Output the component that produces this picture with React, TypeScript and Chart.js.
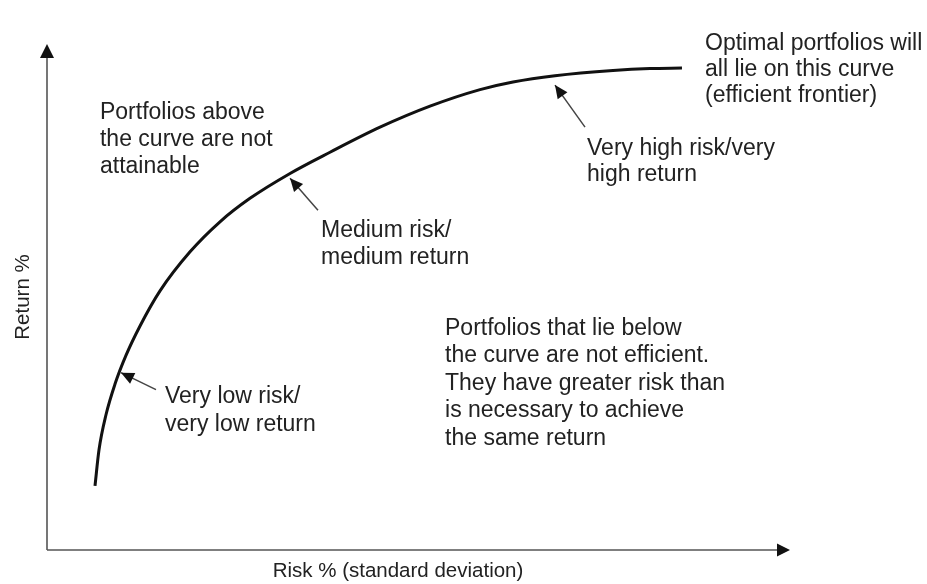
import React, { useEffect, useRef } from "react";
import { Chart, registerables } from "chart.js";

Chart.register(...registerables);

// Efficient frontier (axes 0..100, no ticks shown)
const riskValues = [6.46, 7.0, 7.94, 9.15, 10.63, 12.52, 15.21, 19.25, 23.28, 27.32, 32.71, 38.09, 44.82, 51.55, 58.28, 62.72, 68.37, 76.18, 81.16, 85.46];
const returnValues = [12.67, 19.8, 26.73, 32.79, 38.46, 44.28, 51.21, 58.93, 64.87, 69.5, 74.42, 78.61, 83.56, 87.72, 90.99, 92.5, 93.74, 94.77, 95.15, 95.25];

const xAxisTitle = "Risk % (standard deviation)";
const yAxisTitle = "Return %";

// annotation texts: anchor in data units (left, first baseline)
const noteLines = [
  ["Portfolios above", "the curve are not", "attainable"],
  ["Optimal portfolios will", "all lie on this curve", "(efficient frontier)"],
  ["Very high risk/very", "high return"],
  ["Medium risk/", "medium return"],
  ["Portfolios that lie below", "the curve are not efficient.", "They have greater risk than", "is necessary to achieve", "the same return"],
  ["Very low risk/", "very low return"],
];
const noteX = [7.13, 88.56, 72.68, 36.88, 53.57, 15.88];
const noteY = [85.15, 98.81, 78.02, 61.78, 42.57, 29.11];
const noteLineGap = [27, 26, 26, 27, 27.5, 28];

// pointer arrows: tail -> tip, in data units
const pointerTailX = [14.67, 36.47, 72.41];
const pointerTailY = [31.68, 67.13, 83.56];
const pointerTipX = [9.96, 32.71, 68.37];
const pointerTipY = [35.05, 73.47, 91.88];

function arrowHead(ctx: CanvasRenderingContext2D, fx: number, fy: number, tx: number, ty: number, len: number, half: number) {
  const a = Math.atan2(ty - fy, tx - fx);
  ctx.beginPath();
  ctx.moveTo(tx, ty);
  ctx.lineTo(tx - len * Math.cos(a) + half * Math.sin(a), ty - len * Math.sin(a) - half * Math.cos(a));
  ctx.lineTo(tx - len * Math.cos(a) - half * Math.sin(a), ty - len * Math.sin(a) + half * Math.cos(a));
  ctx.closePath();
  ctx.fill();
}

const decorPlugin = {
  id: "decor",
  afterDraw(chart: any) {
    const ctx: CanvasRenderingContext2D = chart.ctx;
    const xs = chart.scales.x;
    const ys = chart.scales.y;
    const x0 = xs.getPixelForValue(0);
    const x1 = xs.getPixelForValue(100);
    const y0 = ys.getPixelForValue(0);
    const y1 = ys.getPixelForValue(100);
    ctx.save();
    // axes
    ctx.strokeStyle = "#555";
    ctx.fillStyle = "#111";
    ctx.lineWidth = 1.6;
    ctx.beginPath();
    ctx.moveTo(x0, y0);
    ctx.lineTo(x0, y1 + 8);
    ctx.moveTo(x0, y0);
    ctx.lineTo(x1 - 8, y0);
    ctx.stroke();
    arrowHead(ctx, x0, y0, x0, y1, 14, 7);
    arrowHead(ctx, x0, y0, x1, y0, 13, 6.5);

    // pointers
    ctx.strokeStyle = "#444";
    ctx.fillStyle = "#111";
    ctx.lineWidth = 1.5;
    for (let i = 0; i < pointerTipX.length; i++) {
      const fx = xs.getPixelForValue(pointerTailX[i]);
      const fy = ys.getPixelForValue(pointerTailY[i]);
      const tx = xs.getPixelForValue(pointerTipX[i]);
      const ty = ys.getPixelForValue(pointerTipY[i]);
      ctx.beginPath();
      ctx.moveTo(fx, fy);
      ctx.lineTo(tx, ty);
      ctx.stroke();
      arrowHead(ctx, fx, fy, tx, ty, 13, 6);
    }

    // notes
    ctx.fillStyle = "#222";
    ctx.font = '23px "Liberation Sans", Arial, sans-serif';
    ctx.textAlign = "left";
    ctx.textBaseline = "alphabetic";
    for (let i = 0; i < noteLines.length; i++) {
      const px = xs.getPixelForValue(noteX[i]);
      const py = ys.getPixelForValue(noteY[i]);
      noteLines[i].forEach((line, j) => ctx.fillText(line, px, py + j * noteLineGap[i]));
    }

    // axis titles
    ctx.font = '20.5px "Liberation Sans", Arial, sans-serif';
    ctx.textAlign = "center";
    ctx.fillText(xAxisTitle, 398, 577);
    ctx.save();
    ctx.translate(29, 297);
    ctx.rotate(-Math.PI / 2);
    ctx.fillText(yAxisTitle, 0, 0);
    ctx.restore();
    ctx.restore();
  },
};

export default function App() {
  const ref = useRef<HTMLCanvasElement | null>(null);
  useEffect(() => {
    if (!ref.current) return;
    const chart = new Chart(ref.current, {
      type: "scatter",
      data: {
        datasets: [
          {
            data: riskValues.map((r, i) => ({ x: r, y: returnValues[i] })),
            showLine: true,
            borderColor: "#111",
            borderWidth: 3,
            pointRadius: 0,
            cubicInterpolationMode: "monotone",
            fill: false,
          },
        ],
      },
      options: {
        responsive: false,
        animation: false,
        layout: { padding: { left: 47, right: 137, top: 44, bottom: 34 } },
        scales: {
          x: { type: "linear", min: 0, max: 100, display: false },
          y: { type: "linear", min: 0, max: 100, display: false },
        },
        plugins: { legend: { display: false }, tooltip: { enabled: false } },
      },
      plugins: [decorPlugin],
    });
    return () => chart.destroy();
  }, []);
  return (
    <div style={{ position: "fixed", left: 0, top: 0, width: 927, height: 584, background: "#fff" }}>
      <canvas ref={ref} width={927} height={584} style={{ width: 927, height: 584 }} />
    </div>
  );
}
